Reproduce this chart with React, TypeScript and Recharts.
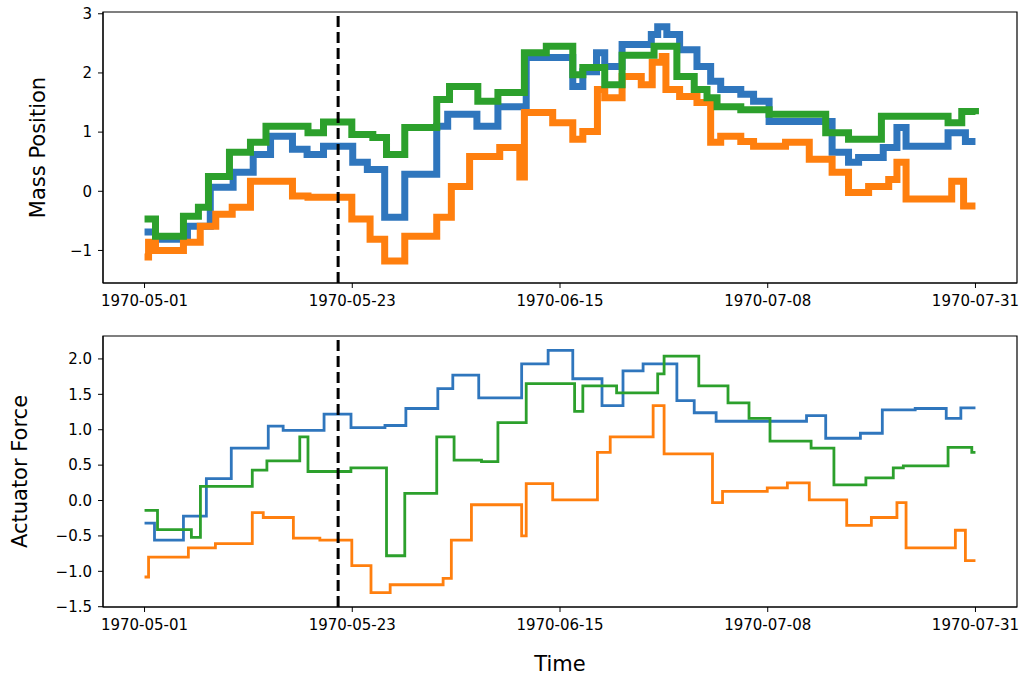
import { LineChart, Line, XAxis, YAxis, ReferenceLine, ReferenceArea } from "recharts";

// x values are days since 1970-05-01
const massBlue = [
  { d: 0, v: -0.69 }, { d: 1.2, v: -0.81 }, { d: 4.7, v: -0.59 }, { d: 7.2, v: 0.07 },
  { d: 9.7, v: 0.32 }, { d: 11.9, v: 0.62 }, { d: 13.8, v: 0.93 }, { d: 16.2, v: 0.71 },
  { d: 17.8, v: 0.62 }, { d: 19.6, v: 0.76 }, { d: 22.8, v: 0.49 }, { d: 24.4, v: 0.37 },
  { d: 26.3, v: -0.44 }, { d: 28.5, v: 0.29 }, { d: 32.0, v: 1.1 }, { d: 33.2, v: 1.3 },
  { d: 36.4, v: 1.1 }, { d: 38.7, v: 1.43 }, { d: 41.8, v: 2.26 }, { d: 46.9, v: 1.77 },
  { d: 48.0, v: 2.02 }, { d: 49.5, v: 2.34 }, { d: 50.4, v: 2.11 }, { d: 52.3, v: 2.48 },
  { d: 55.5, v: 2.65 }, { d: 56.2, v: 2.78 }, { d: 57.2, v: 2.65 }, { d: 58.6, v: 2.39 },
  { d: 60.5, v: 2.11 }, { d: 62.0, v: 1.86 }, { d: 63.1, v: 1.72 }, { d: 65.3, v: 1.64 },
  { d: 66.7, v: 1.52 }, { d: 68.4, v: 1.18 }, { d: 75.3, v: 0.66 }, { d: 77.1, v: 0.49 },
  { d: 78.2, v: 0.57 }, { d: 80.9, v: 0.74 }, { d: 82.4, v: 1.08 }, { d: 83.4, v: 0.76 },
  { d: 88.0, v: 0.99 }, { d: 89.9, v: 0.84 }, { d: 91, v: 0.84 },
];

const massOrange = [
  { d: 0, v: -1.11 }, { d: 0.44, v: -0.86 }, { d: 1.2, v: -1.0 }, { d: 4.26, v: -0.86 },
  { d: 6.1, v: -0.59 }, { d: 7.8, v: -0.39 }, { d: 9.6, v: -0.27 }, { d: 11.6, v: 0.17 },
  { d: 16.2, v: -0.08 }, { d: 17.9, v: -0.1 }, { d: 22.7, v: -0.47 }, { d: 24.7, v: -0.81 },
  { d: 26.3, v: -1.18 }, { d: 28.5, v: -0.76 }, { d: 32.0, v: -0.44 }, { d: 33.6, v: 0.08 },
  { d: 35.6, v: 0.59 }, { d: 38.9, v: 0.74 }, { d: 41.1, v: 0.24 }, { d: 41.6, v: 1.33 },
  { d: 44.7, v: 1.16 }, { d: 46.9, v: 0.88 }, { d: 48.0, v: 1.01 }, { d: 49.6, v: 1.72 },
  { d: 50.4, v: 1.58 }, { d: 52.3, v: 1.94 }, { d: 54.4, v: 1.8 }, { d: 55.6, v: 2.18 },
  { d: 56.7, v: 2.28 }, { d: 57.1, v: 1.72 }, { d: 58.6, v: 1.6 }, { d: 60.5, v: 1.5 },
  { d: 62.0, v: 0.83 }, { d: 63.1, v: 0.93 }, { d: 65.3, v: 0.84 }, { d: 66.7, v: 0.76 },
  { d: 70.2, v: 0.83 }, { d: 72.8, v: 0.54 }, { d: 75.3, v: 0.32 }, { d: 77.1, v: -0.02 },
  { d: 79.3, v: 0.08 }, { d: 81.5, v: 0.2 }, { d: 82.4, v: 0.49 }, { d: 83.4, v: -0.13 },
  { d: 88.4, v: 0.17 }, { d: 89.7, v: -0.25 }, { d: 91, v: -0.25 },
];

const massGreen = [
  { d: 0, v: -0.47 }, { d: 1.2, v: -0.76 }, { d: 4.26, v: -0.42 }, { d: 5.9, v: -0.27 },
  { d: 7.0, v: 0.25 }, { d: 9.3, v: 0.66 }, { d: 11.6, v: 0.83 }, { d: 13.3, v: 1.1 },
  { d: 17.9, v: 0.99 }, { d: 19.6, v: 1.17 }, { d: 22.7, v: 0.96 }, { d: 25.0, v: 0.91 },
  { d: 26.5, v: 0.62 }, { d: 28.5, v: 1.08 }, { d: 32.0, v: 1.55 }, { d: 33.4, v: 1.77 },
  { d: 36.5, v: 1.52 }, { d: 38.7, v: 1.67 }, { d: 41.6, v: 2.34 }, { d: 44.0, v: 2.45 },
  { d: 46.9, v: 1.97 }, { d: 48.0, v: 2.09 }, { d: 50.4, v: 1.8 }, { d: 52.3, v: 2.3 },
  { d: 55.8, v: 2.45 }, { d: 58.3, v: 1.94 }, { d: 60.2, v: 1.72 }, { d: 61.6, v: 1.58 },
  { d: 62.7, v: 1.43 }, { d: 65.3, v: 1.38 }, { d: 68.4, v: 1.3 }, { d: 74.6, v: 0.99 },
  { d: 77.1, v: 0.88 }, { d: 80.7, v: 1.27 }, { d: 88.0, v: 1.16 }, { d: 89.5, v: 1.35 },
  { d: 91, v: 1.3 },
];

const forceBlue = [
  { d: 0, v: -0.32 }, { d: 1.09, v: -0.56 }, { d: 4.26, v: -0.22 }, { d: 6.77, v: 0.31 },
  { d: 9.5, v: 0.74 }, { d: 13.55, v: 1.05 }, { d: 15.18, v: 0.99 }, { d: 19.66, v: 1.22 },
  { d: 22.61, v: 1.03 }, { d: 26.33, v: 1.06 }, { d: 28.62, v: 1.3 }, { d: 32.12, v: 1.58 },
  { d: 33.76, v: 1.77 }, { d: 36.6, v: 1.45 }, { d: 41.3, v: 1.93 }, { d: 44.2, v: 2.12 },
  { d: 46.9, v: 1.72 }, { d: 50.1, v: 1.34 }, { d: 52.4, v: 1.83 }, { d: 54.6, v: 1.93 },
  { d: 58.3, v: 1.41 }, { d: 60.2, v: 1.24 }, { d: 62.6, v: 1.12 }, { d: 72.5, v: 1.2 },
  { d: 74.6, v: 0.88 }, { d: 78.4, v: 0.95 }, { d: 80.8, v: 1.28 }, { d: 84.4, v: 1.3 },
  { d: 87.8, v: 1.16 }, { d: 89.4, v: 1.31 }, { d: 91, v: 1.31 },
];

const forceOrange = [
  { d: 0, v: -1.08 }, { d: 0.44, v: -0.8 }, { d: 4.8, v: -0.67 }, { d: 7.76, v: -0.61 },
  { d: 11.8, v: -0.17 }, { d: 13.0, v: -0.24 }, { d: 16.3, v: -0.53 }, { d: 19.2, v: -0.56 },
  { d: 22.7, v: -0.92 }, { d: 24.8, v: -1.3 }, { d: 26.9, v: -1.19 }, { d: 32.7, v: -1.1 },
  { d: 33.6, v: -0.56 }, { d: 35.8, v: -0.06 }, { d: 41.3, v: -0.5 }, { d: 41.8, v: 0.24 },
  { d: 44.7, v: 0.01 }, { d: 49.6, v: 0.68 }, { d: 51.0, v: 0.9 }, { d: 55.7, v: 1.34 },
  { d: 56.9, v: 0.66 }, { d: 62.2, v: -0.03 }, { d: 63.3, v: 0.13 }, { d: 68.2, v: 0.18 },
  { d: 70.4, v: 0.25 }, { d: 72.8, v: 0.01 }, { d: 76.9, v: -0.35 }, { d: 79.6, v: -0.24 },
  { d: 82.4, v: -0.03 }, { d: 83.4, v: -0.67 }, { d: 88.8, v: -0.42 }, { d: 89.9, v: -0.85 },
  { d: 91, v: -0.85 },
];

const forceGreen = [
  { d: 0, v: -0.14 }, { d: 1.42, v: -0.41 }, { d: 5.13, v: -0.52 }, { d: 6.12, v: 0.2 },
  { d: 11.8, v: 0.43 }, { d: 13.4, v: 0.56 }, { d: 17.0, v: 0.9 }, { d: 17.9, v: 0.41 },
  { d: 22.6, v: 0.46 }, { d: 26.5, v: -0.78 }, { d: 28.5, v: 0.1 }, { d: 32.0, v: 0.9 },
  { d: 33.9, v: 0.57 }, { d: 36.9, v: 0.55 }, { d: 38.7, v: 1.1 }, { d: 41.8, v: 1.65 },
  { d: 47.1, v: 1.26 }, { d: 48.0, v: 1.62 }, { d: 51.7, v: 1.52 }, { d: 56.2, v: 1.79 },
  { d: 56.9, v: 2.04 }, { d: 60.7, v: 1.62 }, { d: 63.9, v: 1.38 }, { d: 66.2, v: 1.16 },
  { d: 68.5, v: 0.84 }, { d: 73.0, v: 0.74 }, { d: 75.5, v: 0.22 }, { d: 79.0, v: 0.32 },
  { d: 82.0, v: 0.46 }, { d: 83.1, v: 0.49 }, { d: 88.0, v: 0.75 }, { d: 90.6, v: 0.68 },
  { d: 91, v: 0.68 },
];

const xTicks = [0, 22.75, 45.5, 68.25, 91];
const massTicks = [-1, 0, 1, 2, 3];
const forceTicks = [-1.5, -1.0, -0.5, 0.0, 0.5, 1.0, 1.5, 2.0];
const splitDay = 21.2;

const X_DOMAIN: [number, number] = [-4.55, 95.55];
const MASS_DOMAIN: [number, number] = [-1.55, 3.03];
const FORCE_DOMAIN: [number, number] = [-1.504, 2.324];

const BLUE = "#2f76bd";
const ORANGE = "#ff7f0e";
const GREEN = "#2ca02c";
const FONT = '"DejaVu Sans", sans-serif';

const fmtDate = (d: number) =>
  new Date(Date.UTC(1970, 4, 1) + d * 86400000).toISOString().slice(0, 10);
const minus = (s: string) => s.replace("-", "\u2212");

const tickStyle = { fill: "#000", fontSize: 15, fontFamily: FONT };
const labelStyle = { fill: "#000", fontSize: 21, fontFamily: FONT, textAnchor: "middle" as const };

function xAxis(height: number, label?: string) {
  return (
    <XAxis
      type="number"
      dataKey="d"
      domain={X_DOMAIN}
      allowDataOverflow
      ticks={xTicks}
      tickFormatter={fmtDate}
      height={height}
      tick={tickStyle}
      tickSize={5}
      tickMargin={7}
      stroke="#000"
      label={label ? { value: label, position: "insideBottom", offset: 4, style: labelStyle } : undefined}
    />
  );
}

export default function App() {
  return (
    <div style={{ position: "absolute", left: 0, top: 0, width: 1029, height: 675, background: "#fff", fontFamily: FONT }}>
      <div style={{ position: "absolute", left: 0, top: 0 }}>
        <LineChart width={1029} height={320} margin={{ top: 12, right: 12, left: 0, bottom: 0 }}>
          {xAxis(37)}
          <YAxis
            type="number"
            domain={MASS_DOMAIN}
            allowDataOverflow
            ticks={massTicks}
            tickFormatter={(v: number) => minus(String(v))}
            width={103}
            tick={tickStyle}
            tickSize={5}
            tickMargin={6}
            stroke="#000"
            label={{ value: "Mass Position", angle: -90, position: "insideLeft", offset: 38, style: labelStyle }}
          />
          <Line data={massBlue} dataKey="v" type="stepAfter" stroke={BLUE} strokeWidth={7} dot={false} isAnimationActive={false} />
          <Line data={massOrange} dataKey="v" type="stepAfter" stroke={ORANGE} strokeWidth={7} dot={false} isAnimationActive={false} />
          <Line data={massGreen} dataKey="v" type="stepAfter" stroke={GREEN} strokeWidth={7} dot={false} isAnimationActive={false} />
          <ReferenceLine x={splitDay} stroke="#000" strokeWidth={3} strokeDasharray="11 5" />
          <ReferenceArea x1={X_DOMAIN[0]} x2={X_DOMAIN[1]} y1={MASS_DOMAIN[0]} y2={MASS_DOMAIN[1]} fill="none" stroke="#000" strokeWidth={1.2} />
        </LineChart>
      </div>
      <div style={{ position: "absolute", left: 0, top: 320 }}>
        <LineChart width={1029} height={355} margin={{ top: 16, right: 12, left: 0, bottom: 0 }}>
          {xAxis(68, "Time")}
          <YAxis
            type="number"
            domain={FORCE_DOMAIN}
            allowDataOverflow
            ticks={forceTicks}
            tickFormatter={(v: number) => minus(v.toFixed(1))}
            width={103}
            tick={tickStyle}
            tickSize={5}
            tickMargin={6}
            stroke="#000"
            label={{ value: "Actuator Force", angle: -90, position: "insideLeft", offset: 20, style: labelStyle }}
          />
          <Line data={forceBlue} dataKey="v" type="stepAfter" stroke={BLUE} strokeWidth={2.8} dot={false} isAnimationActive={false} />
          <Line data={forceOrange} dataKey="v" type="stepAfter" stroke={ORANGE} strokeWidth={2.8} dot={false} isAnimationActive={false} />
          <Line data={forceGreen} dataKey="v" type="stepAfter" stroke={GREEN} strokeWidth={2.8} dot={false} isAnimationActive={false} />
          <ReferenceLine x={splitDay} stroke="#000" strokeWidth={3} strokeDasharray="11 5" />
          <ReferenceArea x1={X_DOMAIN[0]} x2={X_DOMAIN[1]} y1={FORCE_DOMAIN[0]} y2={FORCE_DOMAIN[1]} fill="none" stroke="#000" strokeWidth={1.2} />
        </LineChart>
      </div>
    </div>
  );
}
